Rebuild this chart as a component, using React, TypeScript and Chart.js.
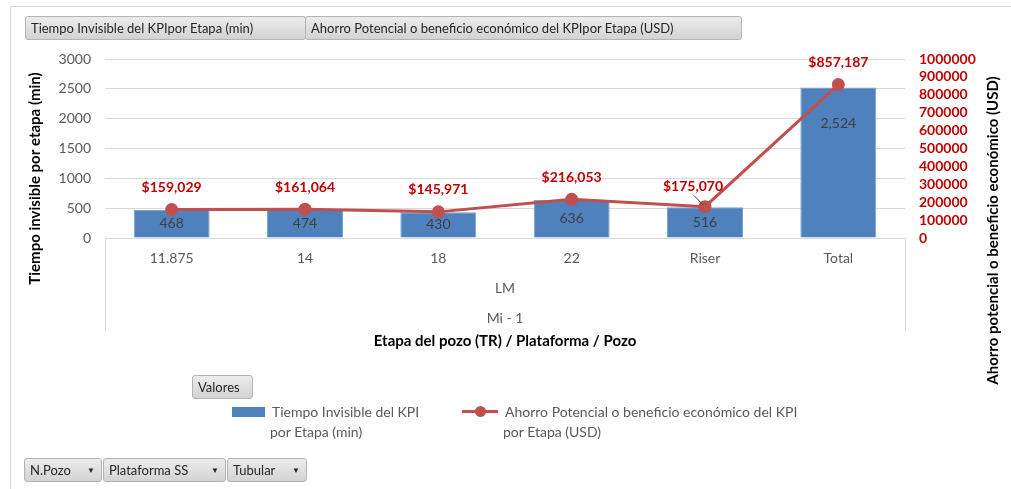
import React, { useEffect, useRef } from 'react';
import { Chart, registerables } from 'chart.js';

Chart.register(...registerables);

const categories = ['11.875', '14', '18', '22', 'Riser', 'Total'];
const tiempoInvisible = [468, 474, 430, 636, 516, 2524];
const ahorroPotencial = [159029, 161064, 145971, 216053, 175070, 857187];
const leftMax = 3000;
const leftStep = 500;
const rightMax = 1000000;
const rightStep = 100000;
const groupLevel1 = 'LM';
const groupLevel2 = 'Mi - 1';
const xTitle = 'Etapa del pozo (TR) / Plataforma / Pozo';
const yLeftTitle = 'Tiempo invisible por etapa (min)';
const yRightTitle = 'Ahorro potencial o beneficio económico (USD)';
const seriesBarName = ['Tiempo Invisible del KPI', 'por Etapa (min)'];
const seriesLineName = ['Ahorro Potencial o beneficio económico del KPI', 'por Etapa (USD)'];
const topTabs = ['Tiempo Invisible del KPIpor Etapa (min)', 'Ahorro Potencial o beneficio económico del KPIpor Etapa (USD)'];
const bottomFilters = ['N.Pozo', 'Plataforma SS', 'Tubular'];

const FONT = 'Lato, "Open Sans", sans-serif';
const BAR_COLOR = '#4F81BD';
const LINE_COLOR = '#C0504D';
const RED_TEXT = '#C00000';
const GRID = '#D9D9D9';

const overlayPlugin = {
  id: 'overlayPlugin',
  afterDatasetsDraw(chart: any) {
    const ctx = chart.ctx;
    ctx.save();
    ctx.textAlign = 'center';
    ctx.textBaseline = 'middle';
    const barMeta = chart.getDatasetMeta(0);
    ctx.font = `14px ${FONT}`;
    ctx.fillStyle = '#404040';
    barMeta.data.forEach((el: any, i: number) => {
      const p = el.getProps(['x', 'y', 'base'], true);
      const cy = Math.min((p.y + p.base) / 2, p.y + 36);
      ctx.fillText(tiempoInvisible[i].toLocaleString('en-US'), p.x, cy);
    });
    const lineMeta = chart.getDatasetMeta(1);
    ctx.font = `bold 14px ${FONT}`;
    const pts = lineMeta.data;
    pts.forEach((el: any, i: number) => {
      let lx = el.x;
      let ly = el.y - 22;
      const next = pts[i + 1];
      // if the following segment climbs steeply through the label, nudge it and add a leader line
      const steep = next && (el.y - next.y) / (next.x - el.x) > 0.6;
      if (steep) {
        lx = el.x - 12;
        ly = el.y - 20;
        ctx.strokeStyle = '#404040';
        ctx.lineWidth = 1;
        ctx.beginPath();
        ctx.moveTo(lx + 1, ly + 9);
        ctx.lineTo(el.x - 2, el.y - 2);
        ctx.stroke();
      }
      ctx.fillStyle = RED_TEXT;
      ctx.fillText('$' + ahorroPotencial[i].toLocaleString('en-US'), lx, ly);
    });
    ctx.restore();
  },
  afterDraw(chart: any) {
    const ctx = chart.ctx;
    const { left, right, bottom, top } = chart.chartArea;
    ctx.save();
    ctx.strokeStyle = GRID;
    ctx.lineWidth = 1;
    ctx.beginPath();
    ctx.moveTo(Math.round(left) + 0.5, bottom);
    ctx.lineTo(Math.round(left) + 0.5, bottom + 92);
    ctx.moveTo(Math.round(right) + 0.5, bottom);
    ctx.lineTo(Math.round(right) + 0.5, bottom + 92);
    ctx.stroke();
    const cx = (left + right) / 2;
    ctx.textAlign = 'center';
    ctx.textBaseline = 'middle';
    ctx.fillStyle = '#595959';
    ctx.font = `14px ${FONT}`;
    ctx.fillText(groupLevel1, cx, bottom + 50);
    ctx.fillText(groupLevel2, cx, bottom + 80);
    ctx.fillStyle = '#000000';
    ctx.font = `bold 15px ${FONT}`;
    ctx.fillText(xTitle, cx, bottom + 103);
    ctx.save();
    ctx.translate(35, (top + bottom) / 2 + 30);
    ctx.rotate(-Math.PI / 2);
    ctx.fillText(yLeftTitle, 0, 0);
    ctx.restore();
    ctx.save();
    ctx.translate(right + 88, (top + bottom) / 2 + 82);
    ctx.rotate(-Math.PI / 2);
    ctx.fillText(yRightTitle, 0, 0);
    ctx.restore();
    ctx.restore();
  },
};

const btnStyle: React.CSSProperties = {
  position: 'absolute',
  boxSizing: 'border-box',
  background: 'linear-gradient(#ececec, #d3d3d3)',
  border: '1px solid #b4b4b4',
  borderRadius: 3,
  fontFamily: FONT,
  fontSize: 13,
  color: '#262626',
  lineHeight: '22px',
  paddingLeft: 5,
  whiteSpace: 'nowrap',
  overflow: 'hidden',
};

export default function App() {
  const canvasRef = useRef<HTMLCanvasElement | null>(null);

  useEffect(() => {
    if (!canvasRef.current) return;
    const chart = new Chart(canvasRef.current, {
      type: 'bar',
      data: {
        labels: categories,
        datasets: [
          {
            type: 'bar',
            label: seriesBarName.join(' '),
            data: tiempoInvisible,
            backgroundColor: BAR_COLOR,
            borderColor: '#7DA0CC',
            borderWidth: 1,
            barPercentage: 0.57,
            categoryPercentage: 1,
            yAxisID: 'y',
            order: 2,
          },
          {
            type: 'line',
            label: seriesLineName.join(' '),
            data: ahorroPotencial,
            borderColor: LINE_COLOR,
            backgroundColor: LINE_COLOR,
            borderWidth: 3,
            pointRadius: 5,
            pointBackgroundColor: LINE_COLOR,
            pointBorderColor: LINE_COLOR,
            yAxisID: 'y1',
            order: 1,
          } as any,
        ],
      },
      options: {
        animation: false,
        responsive: false,
        maintainAspectRatio: false,
        layout: { padding: { top: 59, left: 0, right: 0, bottom: 0 } },
        plugins: { legend: { display: false }, tooltip: { enabled: false } },
        scales: {
          x: {
            offset: true,
            grid: { display: false, drawTicks: false },
            border: { display: false },
            ticks: { color: '#595959', font: { family: FONT, size: 14 }, padding: 12 },
            afterFit: (s: any) => { s.height = 251; },
          },
          y: {
            position: 'left',
            min: 0,
            max: leftMax,
            ticks: {
              stepSize: leftStep,
              autoSkip: false,
              color: '#595959',
              font: { family: FONT, size: 14 },
              padding: 14,
              callback: (v: any) => String(v),
            },
            grid: { color: GRID, drawTicks: false },
            border: { display: false },
            afterFit: (s: any) => { s.width = 105; },
          },
          y1: {
            position: 'right',
            min: 0,
            max: rightMax,
            ticks: {
              stepSize: rightStep,
              autoSkip: false,
              color: RED_TEXT,
              font: { family: FONT, size: 14, weight: 'bold' },
              padding: 14,
              callback: (v: any) => String(v),
            },
            grid: { display: false, drawTicks: false },
            border: { display: false },
            afterFit: (s: any) => { s.width = 106; },
          },
        },
      } as any,
      plugins: [overlayPlugin],
    });
    return () => chart.destroy();
  }, []);

  return (
    <div style={{ position: 'fixed', left: 0, top: 0, width: 1011, height: 489, background: '#fff', overflow: 'hidden' }}>
      <div style={{ position: 'absolute', left: 10, top: 6, width: 1001, height: 1, background: GRID }} />
      <div style={{ position: 'absolute', left: 10, top: 6, width: 1, height: 483, background: GRID }} />
      <canvas ref={canvasRef} width={1011} height={489} style={{ position: 'absolute', left: 0, top: 0 }} />
      <div style={{ ...btnStyle, left: 25, top: 16, width: 281, height: 24 }}>{topTabs[0]}</div>
      <div style={{ ...btnStyle, left: 305, top: 16, width: 437, height: 24 }}>{topTabs[1]}</div>
      <div style={{ ...btnStyle, left: 192, top: 375, width: 61, height: 24 }}>Valores</div>
      <div style={{ position: 'absolute', left: 232, top: 407, width: 33, height: 10, background: BAR_COLOR }} />
      <div style={{ position: 'absolute', left: 270, top: 402, fontFamily: FONT, fontSize: 14, color: '#595959', lineHeight: '20px', whiteSpace: 'nowrap' }}>
        <div style={{ paddingLeft: 2 }}>{seriesBarName[0]}</div>
        <div>{seriesBarName[1]}</div>
      </div>
      <div style={{ position: 'absolute', left: 462, top: 410, width: 36, height: 3, background: LINE_COLOR }} />
      <div style={{ position: 'absolute', left: 475, top: 406, width: 11, height: 11, borderRadius: '50%', background: LINE_COLOR }} />
      <div style={{ position: 'absolute', left: 503, top: 402, fontFamily: FONT, fontSize: 14, color: '#595959', lineHeight: '20px', whiteSpace: 'nowrap' }}>
        <div style={{ paddingLeft: 2 }}>{seriesLineName[0]}</div>
        <div>{seriesLineName[1]}</div>
      </div>
      {bottomFilters.map((t, i) => {
        const lefts = [24, 103, 227];
        const widths = [78, 123, 80];
        return (
          <div key={t} style={{ ...btnStyle, left: lefts[i], top: 458, width: widths[i], height: 24 }}>
            {t}
            <span style={{ position: 'absolute', right: 6, top: 0, fontSize: 8 }}>▼</span>
          </div>
        );
      })}
    </div>
  );
}
